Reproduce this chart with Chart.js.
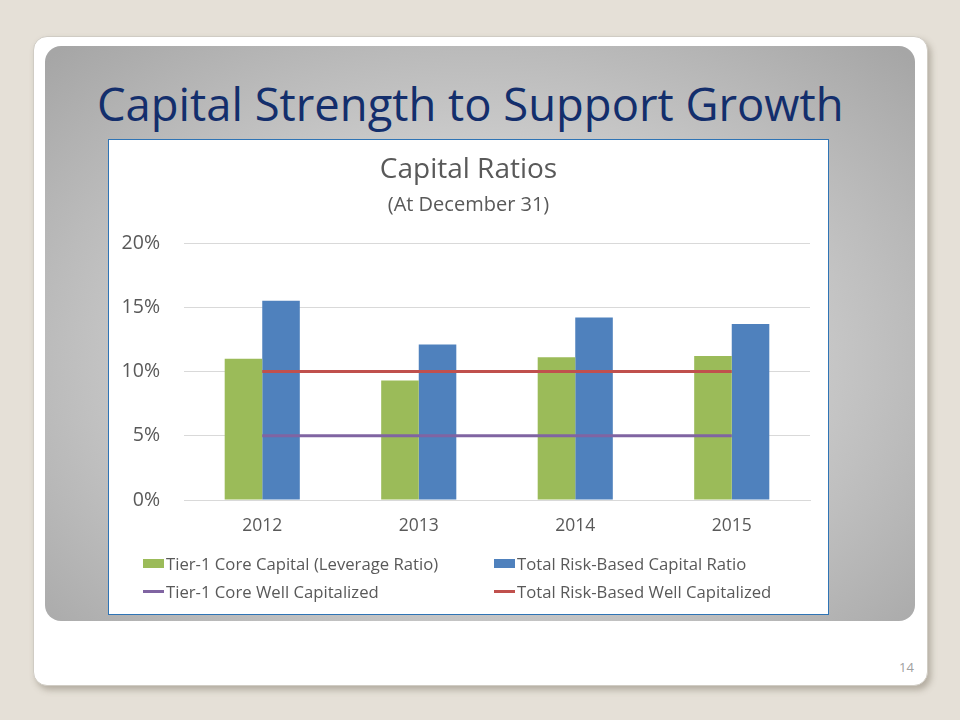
<!DOCTYPE html>
<html>
<head>
<meta charset="utf-8">
<script src="https://cdn.jsdelivr.net/npm/chart.js@4.4.0/dist/chart.umd.min.js"></script>
<style>
  html, body { margin: 0; padding: 0; }
  body { width: 960px; height: 720px; background: #e5e0d7; position: relative; overflow: hidden; font-family: "Open Sans", Lato, sans-serif; }
  .card { position: absolute; left: 33px; top: 36px; width: 895px; height: 650px; background: #fff; border-radius: 14px;
          box-shadow: 3px 4px 6px rgba(120,110,95,0.45); border: 1px solid #d0ccc4; box-sizing: border-box; }
  .panel { position: absolute; left: 45px; top: 46px; width: 870px; height: 575px; border-radius: 16px;
           background: radial-gradient(ellipse 70% 75% at 50% 55%, #e6e6e6 0%, #cfcfcf 45%, #a6a6a6 100%); }
  .slide-title { position: absolute; left: 97px; top: 73px; font-size: 45.4px; line-height: 60px; color: #132e6c; white-space: nowrap; }
  .chart-box { position: absolute; left: 108px; top: 139px; width: 719px; height: 474px; background: #fff; border: 1px solid #2f74b5; }
  #capChart { position: absolute; left: 0; top: 0; }
  .legend { position: absolute; left: 0; top: 0; width: 719px; height: 474px; pointer-events: none; }
  .legend .item { position: absolute; font-size: 16.7px; color: #595959; white-space: nowrap; display: flex; align-items: center; height: 20px; }
  .legend .sw { display: inline-block; width: 21px; margin-right: 2px; }
  .page-num { position: absolute; left: 899px; top: 658px; font-size: 13px; color: #a0a0a0; }
</style>
</head>
<body>
<div class="card"></div>
<div class="panel"></div>
<div class="slide-title">Capital Strength to Support Growth</div>
<div class="chart-box">
  <canvas id="capChart" width="719" height="410"></canvas>
  <div class="legend" id="legend"></div>
</div>
<div class="page-num">14</div>

<script>
// Chart data (percent, at December 31)
const years = ['2012', '2013', '2014', '2015'];
const tier1Core = [11.0, 9.3, 11.1, 11.2];
const totalRiskBased = [15.5, 12.1, 14.2, 13.7];
const tier1WellCap = [5, 5, 5, 5];
const totalWellCap = [10, 10, 10, 10];
const yTicks = [0, 5, 10, 15, 20];

const seriesNames = [
    'Tier-1 Core Capital (Leverage Ratio)',
    'Total Risk-Based Capital Ratio',
    'Tier-1 Core Well Capitalized',
    'Total Risk-Based Well Capitalized'
];

const textColor = '#595959';
const font = '"Open Sans", Lato, sans-serif';

const ctx = document.getElementById('capChart');

const capChart = new Chart(ctx.getContext('2d'), {
    type: 'bar',
    data: {
        labels: years,
        datasets: [
            { label: seriesNames[0], data: tier1Core, backgroundColor: '#9bbb59', categoryPercentage: 0.48, barPercentage: 1.0, order: 2 },
            { label: seriesNames[1], data: totalRiskBased, backgroundColor: '#4f81bd', categoryPercentage: 0.48, barPercentage: 1.0, order: 2 },
            { type: 'line', label: seriesNames[2], data: tier1WellCap, borderColor: '#8064a2', backgroundColor: '#8064a2', borderWidth: 3, pointRadius: 0, order: 1 },
            { type: 'line', label: seriesNames[3], data: totalWellCap, borderColor: '#c0504d', backgroundColor: '#c0504d', borderWidth: 3, pointRadius: 0, order: 1 }
        ]
    },
    options: {
        responsive: false,
        animation: false,
        devicePixelRatio: 1,
        layout: { padding: 0 },
        plugins: {
            legend: { display: false },
            tooltip: { enabled: false },
            title: {
                display: true,
                text: 'Capital Ratios',
                color: textColor,
                font: { family: font, size: 28, weight: 'normal' },
                padding: { top: 13.2, bottom: 3 }
            },
            subtitle: {
                display: true,
                text: '(At December 31)',
                color: textColor,
                font: { family: font, size: 20, weight: 'normal' },
                padding: { top: 3.2, bottom: 26 }
            }
        },
        scales: {
            x: {
                grid: { display: false, drawTicks: false },
                border: { color: '#d9d9d9' },
                ticks: { color: textColor, font: { family: font, size: 17.5 }, padding: 16 },
                afterFit: function (scale) { scale.height = 50; }
            },
            y: {
                min: 0,
                max: 20,
                afterBuildTicks: function (scale) { scale.ticks = yTicks.map(v => ({ value: v })); },
                grid: { color: '#d9d9d9', drawTicks: false },
                border: { display: false },
                ticks: {
                    color: textColor,
                    font: { family: font, size: 19.5 },
                    padding: 24,
                    callback: function (v) { return v + '%'; }
                },
                afterFit: function (scale) { scale.width = 75; }
            },
            // empty right-hand axis: only reserves the right margin so the title stays centred
            yRight: {
                position: 'right',
                min: 0,
                max: 20,
                grid: { display: false, drawTicks: false },
                border: { display: false },
                ticks: { display: false },
                afterFit: function (scale) { scale.width = 18; }
            }
        }
    }
});

// HTML legend in two columns, built from the chart's datasets
function buildLegend(chart) {
    const el = document.getElementById('legend');
    const pos = [
        { left: 34, top: 413 },
        { left: 385, top: 413 },
        { left: 34, top: 441 },
        { left: 385, top: 441 }
    ];
    el.innerHTML = chart.data.datasets.map((ds, i) => {
        const isLine = ds.type === 'line';
        const sw = isLine
            ? `<span class="sw" style="height:3px;background:${ds.borderColor}"></span>`
            : `<span class="sw" style="height:9px;background:${ds.backgroundColor}"></span>`;
        return `<div class="item" style="left:${pos[i].left}px;top:${pos[i].top}px">${sw}${ds.label}</div>`;
    }).join('');
}

buildLegend(capChart);
</script>
</body>
</html>
